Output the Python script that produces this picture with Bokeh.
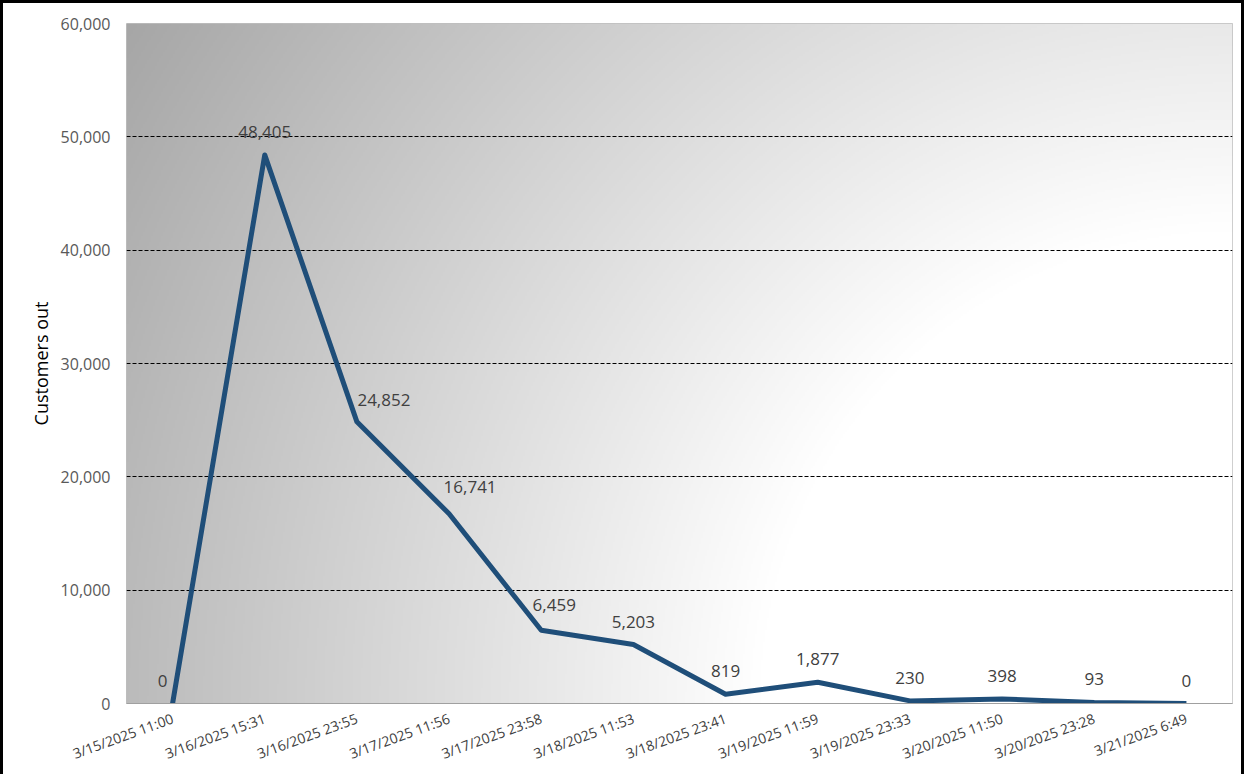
import numpy as np
from bokeh.plotting import figure
from bokeh.models import FactorRange, Range1d, NumeralTickFormatter, FixedTicker, ColumnDataSource
from bokeh.core.properties import value
from bokeh.embed import file_html
from bokeh.resources import INLINE

# ---- data ----
timestamps = ["3/15/2025 11:00", "3/16/2025 15:31", "3/16/2025 23:55", "3/17/2025 11:56",
              "3/17/2025 23:58", "3/18/2025 11:53", "3/18/2025 23:41", "3/19/2025 11:59",
              "3/19/2025 23:33", "3/20/2025 11:50", "3/20/2025 23:28", "3/21/2025 6:49"]
customers_out = [0, 48405, 24852, 16741, 6459, 5203, 819, 1877, 230, 398, 93, 0]
y_ticks = [0, 10000, 20000, 30000, 40000, 50000, 60000]
grid_ticks = [10000, 20000, 30000, 40000, 50000]
y_max = 60000

# ---- label styling (pixel nudges, like manual Excel label placement) ----
label_dx = [-10, 0, 27, 21, 13, 0, 0, 0, 0, 0, 0, 0]
label_dy = [-23, -23, -22, -27, -25, -23, -23, -23, -23, -23, -23, -23]

labels = [f"{v:,}" for v in customers_out]
src = ColumnDataSource(dict(x=timestamps, y=customers_out, text=labels, dx=label_dx, dy=label_dy))

FONT = "Open Sans"

p = figure(x_range=FactorRange(factors=timestamps, range_padding=0),
           y_range=Range1d(0, y_max),
           width=1244, height=774,
           output_backend="svg", toolbar_location=None,
           min_border_left=126, min_border_right=12, min_border_top=23, min_border_bottom=71,
           border_fill_color=None, background_fill_color="white",
           outline_line_color="#bfbfbf", outline_line_width=1)
p.styles = {"background-color": "white",
            "box-shadow": "inset 3px 3px 0 0 black, inset -3px 0 0 0 black"}

# ---- gradient background (radial from bottom-right, white -> gray) ----
W, H = 553, 340
xs = (np.arange(W) + 0.5) / W * 1106.0
ys = (np.arange(H) + 0.5) / H * 680.0
X, Y = np.meshgrid(xs, ys)  # row 0 = bottom
r = np.sqrt((1106.0 - X) ** 2 + Y ** 2) / np.sqrt(1106.0 ** 2 + 680.0 ** 2)
v = np.clip(166 + 140 * (1 - r), 0, 255).astype(np.uint8)
img = np.empty((H, W), dtype=np.uint32)
view = img.view(dtype=np.uint8).reshape((H, W, 4))
view[:, :, 0] = v
view[:, :, 1] = v
view[:, :, 2] = v
view[:, :, 3] = 255
p.image_rgba(image=[img], x=0, y=0, dw=len(timestamps), dh=y_max, level="image")

# ---- grid ----
p.xgrid.grid_line_color = None
p.ygrid.ticker = FixedTicker(ticks=grid_ticks)
p.ygrid.grid_line_color = "black"
p.ygrid.grid_line_dash = "4 2"
p.ygrid.grid_line_width = 1

# ---- line + labels ----
p.line(x="x", y="y", source=src, line_color="#1F4E79", line_width=5, line_join="round")
p.text(x="x", y="y", text="text", source=src, x_offset="dx", y_offset="dy",
       text_font=value(FONT), text_font_size="17px", text_color="#404040",
       text_align="center", text_baseline="middle")

# ---- axes ----
p.yaxis.ticker = FixedTicker(ticks=y_ticks)
p.yaxis.formatter = NumeralTickFormatter(format="0,0")
p.yaxis.axis_line_color = None
p.yaxis.major_tick_line_color = None
p.yaxis.minor_tick_line_color = None
p.yaxis.major_tick_out = 0
p.yaxis.major_tick_in = 0
p.yaxis.major_label_text_font = FONT
p.yaxis.major_label_text_font_size = "16px"
p.yaxis.major_label_text_color = "#595959"
p.yaxis.major_label_standoff = 16
p.yaxis.axis_label = "Customers out"
p.yaxis.axis_label_text_font = FONT
p.yaxis.axis_label_text_font_style = "normal"
p.yaxis.axis_label_text_font_size = "18px"
p.yaxis.axis_label_text_color = "#000000"
p.yaxis.axis_label_standoff = 5

p.xaxis.axis_line_color = "#a0a0a0"
p.xaxis.axis_line_width = 1
p.xaxis.major_tick_line_color = None
p.xaxis.minor_tick_line_color = None
p.xaxis.major_tick_out = 0
p.xaxis.major_tick_in = 0
p.xaxis.major_label_orientation = 0.35
p.xaxis.major_label_text_font = FONT
p.xaxis.major_label_text_font_size = "14px"
p.xaxis.major_label_text_color = "#404040"
p.xaxis.major_label_standoff = 14

open("out.html", "w").write(file_html(p, INLINE))
